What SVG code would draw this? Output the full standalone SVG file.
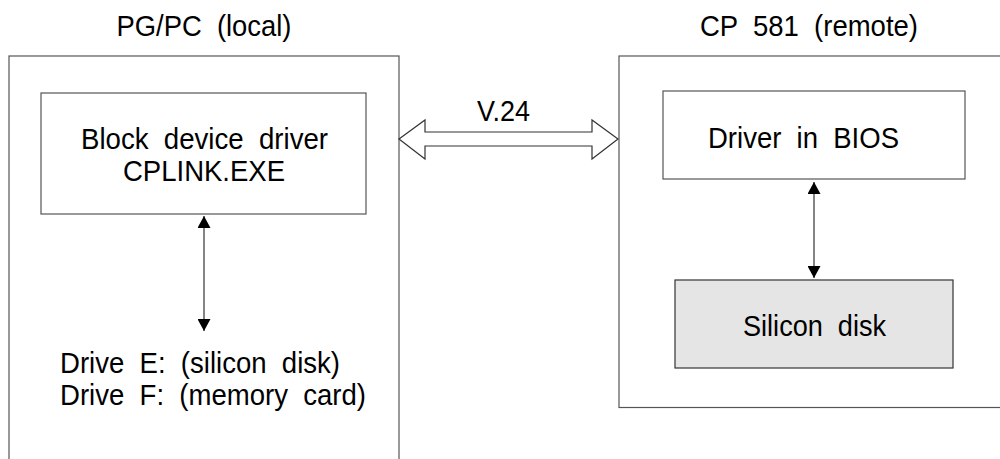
<svg xmlns="http://www.w3.org/2000/svg" width="1000" height="459" viewBox="0 0 1000 459">
<style>
text{font-family:"Liberation Sans",Arial,sans-serif;font-size:29px;fill:#000;word-spacing:8px}
.c{text-anchor:middle}
.box{fill:#fff;stroke:#555;stroke-width:1.2}
.link{stroke:#333;stroke-width:1.2;fill:none}
</style>
<defs>
<marker id="ah" viewBox="0 0 12 13" refX="12" refY="6.5" markerWidth="12" markerHeight="13" markerUnits="userSpaceOnUse" orient="auto-start-reverse">
<path d="M0,0 L12,6.5 L0,13 Z" fill="#000"/>
</marker>
</defs>
<rect width="1000" height="459" fill="#fff"/>
<g id="local">
<rect class="box" x="9" y="56" width="390" height="420"/>
<text class="c" x="204" y="36" textLength="175" lengthAdjust="spacingAndGlyphs">PG/PC (local)</text>
</g>
<g id="remote">
<rect class="box" x="619" y="56" width="400" height="351.5"/>
<text class="c" x="809" y="36" textLength="218" lengthAdjust="spacingAndGlyphs">CP 581 (remote)</text>
</g>
<g id="blockdriver">
<rect class="box" x="41" y="93" width="325" height="121"/>
<text class="c" x="204.5" y="149" textLength="247" lengthAdjust="spacingAndGlyphs">Block device driver</text>
<text class="c" x="204" y="181" textLength="162" lengthAdjust="spacingAndGlyphs">CPLINK.EXE</text>
</g>
<g id="drives">
<text x="60" y="373" textLength="280" lengthAdjust="spacingAndGlyphs">Drive E: (silicon disk)</text>
<text x="60" y="405" textLength="306" lengthAdjust="spacingAndGlyphs">Drive F: (memory card)</text>
</g>
<g id="bios">
<rect class="box" x="663" y="91" width="302" height="88"/>
<text class="c" x="803.5" y="148" textLength="191" lengthAdjust="spacingAndGlyphs">Driver in BIOS</text>
</g>
<g id="silicon">
<rect class="box" x="675" y="280" width="278" height="88" style="fill:#e5e5e5;stroke:#333"/>
<text class="c" x="814.5" y="336" textLength="143" lengthAdjust="spacingAndGlyphs">Silicon disk</text>
</g>
<g id="connectors">
<line class="link" x1="204" y1="216" x2="204" y2="331" marker-start="url(#ah)" marker-end="url(#ah)"/>
<line class="link" x1="814" y1="182" x2="814" y2="278" marker-start="url(#ah)" marker-end="url(#ah)"/>
<path d="M399,139 L425,120 L425,132 L592,132 L592,120 L618,139 L592,159 L592,146 L425,146 L425,159 Z" fill="#fff" stroke="#333" stroke-width="1.2"/>
<text class="c" x="503.5" y="121" textLength="53" lengthAdjust="spacingAndGlyphs">V.24</text>
</g>
</svg>
